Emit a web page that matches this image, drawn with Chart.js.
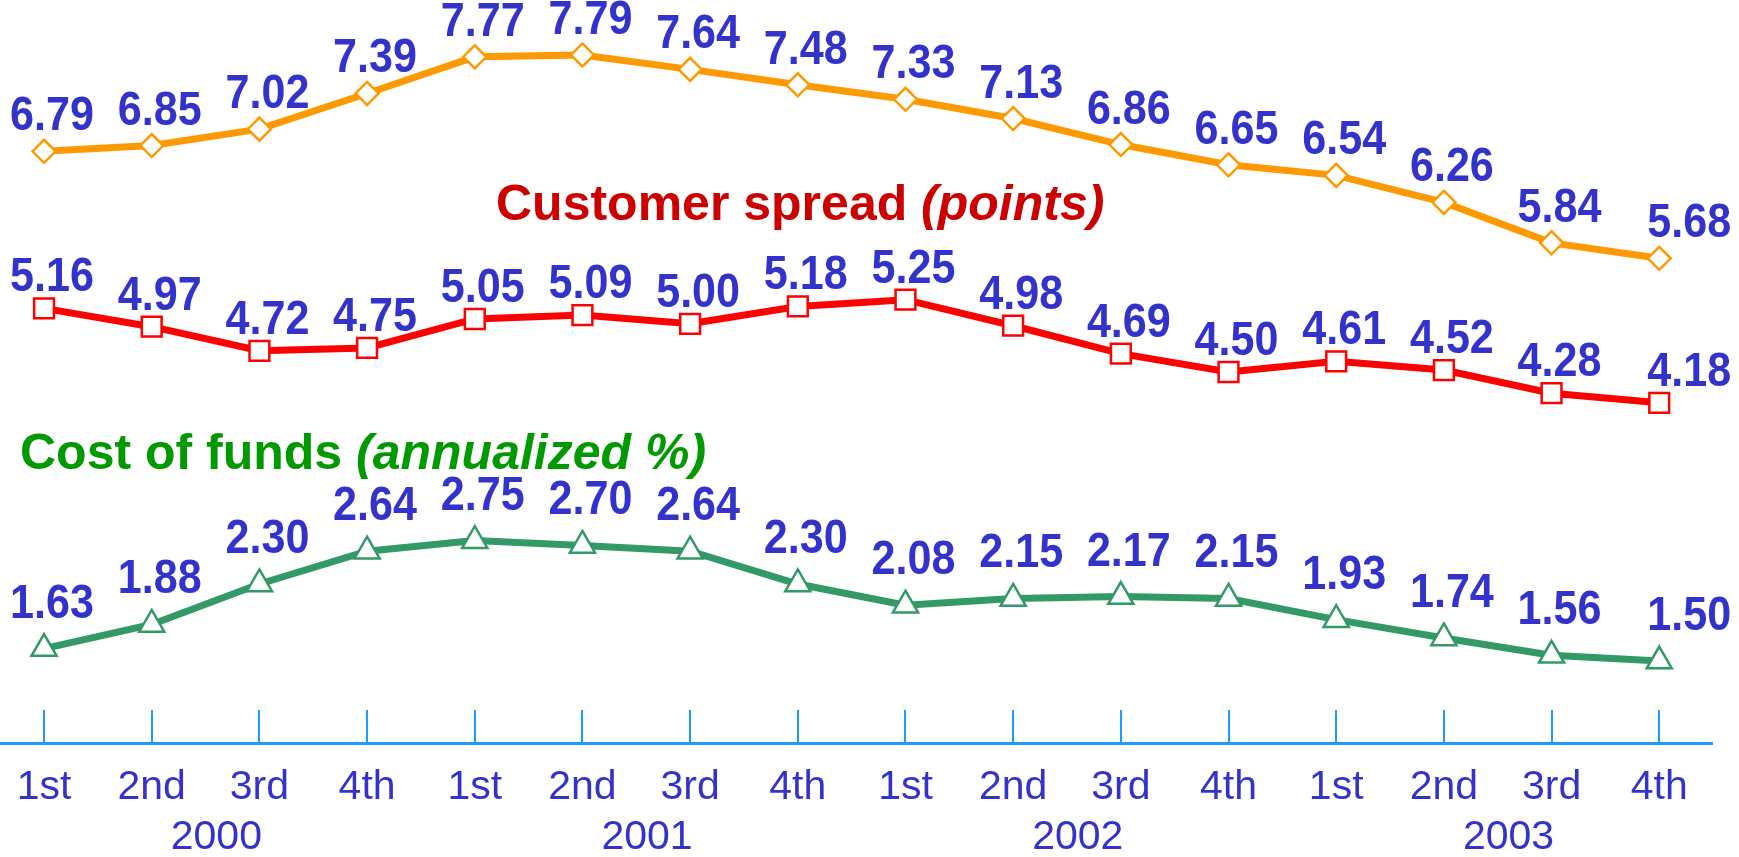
<!DOCTYPE html>
<html>
<head>
<meta charset="utf-8">
<script src="https://cdn.jsdelivr.net/npm/chart.js@4.4.0/dist/chart.umd.min.js"></script>
<style>
    html, body { margin: 0; padding: 0; background: #fff; }
</style>
</head>
<body>
<canvas id="spreadChart" width="1739" height="857"></canvas>
<script>
// Quarterly data, 2000 - 2003
const quarters = ['1st', '2nd', '3rd', '4th', '1st', '2nd', '3rd', '4th',
                  '1st', '2nd', '3rd', '4th', '1st', '2nd', '3rd', '4th'];
const years = ['2000', '2001', '2002', '2003'];
const rateValues = [6.79, 6.85, 7.02, 7.39, 7.77, 7.79, 7.64, 7.48, 7.33, 7.13, 6.86, 6.65, 6.54, 6.26, 5.84, 5.68];
const spreadValues = [5.16, 4.97, 4.72, 4.75, 5.05, 5.09, 5.00, 5.18, 5.25, 4.98, 4.69, 4.50, 4.61, 4.52, 4.28, 4.18];
const costValues = [1.63, 1.88, 2.30, 2.64, 2.75, 2.70, 2.64, 2.30, 2.08, 2.15, 2.17, 2.15, 1.93, 1.74, 1.56, 1.50];

const FONT = '"Liberation Sans", Arial, sans-serif';
const LABEL_BLUE = '#3333cc';
const AXIS_BLUE = '#1e9bff';

function toPoints(values) {
    return values.map((v, i) => ({ x: i, y: v }));
}

// Value labels above each point
const valueLabels = {
    id: 'valueLabels',
    afterDatasetsDraw(chart) {
        const ctx = chart.ctx;
        ctx.save();
        ctx.fillStyle = LABEL_BLUE;
        ctx.font = 'bold 49px ' + FONT;
        ctx.textAlign = 'center';
        ctx.textBaseline = 'alphabetic';
        chart.data.datasets.forEach((ds, di) => {
            const meta = chart.getDatasetMeta(di);
            meta.data.forEach((pt, i) => {
                const last = i === meta.data.length - 1;
                ctx.save();
                ctx.translate(pt.x + (last ? 30 : 8), pt.y - ds.labelGap);
                ctx.scale(0.88, 1);
                ctx.fillText(ds.data[i].y.toFixed(2), 0, 0);
                ctx.restore();
            });
        });
        ctx.restore();
    }
};

// Series captions with mixed regular / italic parts
const seriesTitles = {
    id: 'seriesTitles',
    afterDraw(chart) {
        const ctx = chart.ctx;
        const titles = [
            { color: '#cc0000', left: 496, baseline: 220, parts: [['Customer spread ', ''], ['(points)', 'italic ']] },
            { color: '#009900', left: 20, baseline: 469, parts: [['Cost of funds ', ''], ['(annualized %)', 'italic ']] }
        ];
        ctx.save();
        ctx.textAlign = 'left';
        ctx.textBaseline = 'alphabetic';
        titles.forEach(t => {
            let x = t.left;
            ctx.fillStyle = t.color;
            t.parts.forEach(([text, style]) => {
                ctx.font = style + 'bold 50px ' + FONT;
                ctx.fillText(text, x, t.baseline);
                x += ctx.measureText(text).width;
            });
        });
        ctx.restore();
    }
};

// keep the axis running edge to edge, fixed band heights under it
function fixBand(height) {
    return scale => {
        scale.paddingLeft = 0;
        scale.paddingRight = 0;
        scale.height = height;
    };
}

const ctx = document.getElementById('spreadChart').getContext('2d');

const spreadChart = new Chart(ctx, {
    type: 'line',
    data: {
        datasets: [{
            label: 'Customer rate',
            data: toPoints(rateValues),
            borderColor: '#ff9900',
            borderWidth: 7,
            pointStyle: 'rectRot',
            pointRadius: 11.5,
            pointBorderWidth: 2.5,
            pointBackgroundColor: '#ffffff',
            pointBorderColor: '#ff9900',
            labelGap: 21
        }, {
            label: 'Customer spread (points)',
            data: toPoints(spreadValues),
            borderColor: '#ff0000',
            borderWidth: 7,
            pointStyle: 'rect',
            pointRadius: 14,
            pointBorderWidth: 2.5,
            pointBackgroundColor: '#ffffff',
            pointBorderColor: '#ff0000',
            labelGap: 17
        }, {
            label: 'Cost of funds (annualized %)',
            data: toPoints(costValues),
            borderColor: '#339966',
            borderWidth: 7,
            pointStyle: 'triangle',
            pointRadius: 14.5,
            pointBorderWidth: 2.5,
            pointBackgroundColor: '#ffffff',
            pointBorderColor: '#339966',
            labelGap: 31
        }]
    },
    options: {
        responsive: false,
        animation: false,
        layout: {
            autoPadding: false,
            padding: { left: 0, right: 27, top: 0, bottom: 0 }
        },
        plugins: {
            legend: { display: false },
            tooltip: { enabled: false }
        },
        scales: {
            y: {
                display: false,
                min: 0.65,
                max: 8.36
            },
            x: {
                type: 'linear',
                position: 'bottom',
                min: -0.409,
                max: 15.49,
                afterBuildTicks: scale => {
                    scale.ticks = quarters.map((q, i) => ({ value: i }));
                },
                afterFit: fixBand(70),
                ticks: {
                    autoSkip: false,
                    maxRotation: 0,
                    padding: 57,
                    color: LABEL_BLUE,
                    font: { family: FONT, size: 41, lineHeight: 1 },
                    callback: (value, index) => quarters[index]
                },
                grid: {
                    drawOnChartArea: false,
                    drawTicks: true,
                    tickLength: -33,
                    color: AXIS_BLUE,
                    lineWidth: 2
                },
                border: { display: true, color: AXIS_BLUE, width: 3 }
            },
            year: {
                type: 'linear',
                position: 'bottom',
                min: -0.409,
                max: 15.49,
                afterBuildTicks: scale => {
                    scale.ticks = years.map((y, k) => ({ value: k * 4 + 1.6 }));
                },
                afterFit: fixBand(44),
                ticks: {
                    autoSkip: false,
                    maxRotation: 0,
                    padding: 4,
                    color: LABEL_BLUE,
                    font: { family: FONT, size: 41, lineHeight: 1 },
                    callback: (value, index) => years[index]
                },
                grid: { display: false, drawTicks: false },
                border: { display: false }
            }
        }
    },
    plugins: [valueLabels, seriesTitles]
});
</script>
</body>
</html>
